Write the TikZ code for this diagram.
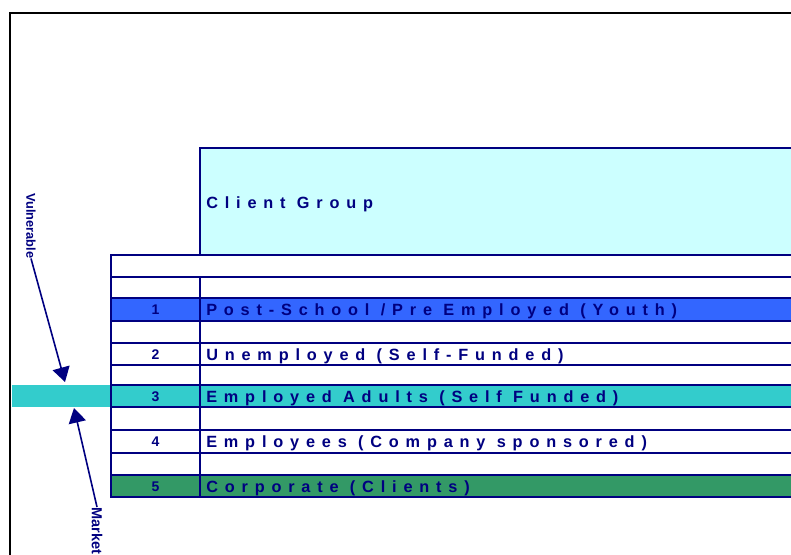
\documentclass[tikz,border=0pt]{standalone}
\usepackage{fontspec}
\setmainfont{Liberation Sans}
\newfontfamily\spaced[LetterSpace=42]{Liberation Sans}
\usetikzlibrary{arrows.meta}

\definecolor{navy}{HTML}{000080}
\definecolor{groupfill}{HTML}{CCFFFF}
\definecolor{youth}{HTML}{3366FF}
\definecolor{adults}{HTML}{33CCCC}
\definecolor{corp}{HTML}{339966}

\begin{document}
\begin{tikzpicture}[x=0.75pt, y=-0.75pt, >={Triangle[width=13pt,length=11pt]}]
        % styles
        \tikzstyle{grid} = [draw=navy, line width=2pt]
        \tikzstyle{label} = [font=\spaced\bfseries\fontsize{12.2}{14}\selectfont, text=navy, anchor=base west, inner sep=0pt]
        \tikzstyle{num} = [font=\bfseries\fontsize{10.5}{12}\selectfont, text=navy, anchor=base, inner sep=0pt]
        \tikzstyle{side} = [font=\bfseries, text=navy, rotate=-90, anchor=west, inner sep=0pt]
        \tikzstyle{pointer} = [->, draw=navy, fill=navy, line width=1.2pt]

        \useasboundingbox (0,0) rectangle (791,554);

        % outer frame
        \draw[black, line width=1.5pt] (10,560) -- (10,13) -- (800,13);

        % coloured bands
        \fill[groupfill] (200,148) rectangle (800,255);
        \fill[youth] (111,298) rectangle (800,321);
        \fill[adults] (12,385) rectangle (800,407);
        \fill[corp] (111,475) rectangle (800,497);

        % table lines
        \draw[grid] (200,255) -- (200,148) -- (800,148);
        \foreach \y in {255,277,298,321,343,365,385,407,430,453,475,497}
            \draw[grid] (111,\y) -- (800,\y);
        \draw[grid] (111,254) -- (111,498);
        \draw[grid] (200,277) -- (200,498);

        % header
        \node[label] (group) at (206,208.5) {Client Group};

        % rows
        \node[num] (n1) at (155.5,314.5) {1};
        \node[label] (g1) at (206,315.5) {Post-School /Pre Employed (Youth)};
        \node[num] (n2) at (155.5,359) {2};
        \node[label] (g2) at (206,360) {Unemployed (Self-Funded)};
        \node[num] (n3) at (155.5,401) {3};
        \node[label] (g3) at (206,402) {Employed Adults (Self Funded)};
        \node[num] (n4) at (155.5,446.5) {4};
        \node[label] (g4) at (206,447.5) {Employees (Company sponsored)};
        \node[num] (n5) at (155.5,491) {5};
        \node[label] (g5) at (206,492) {Corporate (Clients)};

        % side labels
        \node[side, font=\bfseries\fontsize{9.6}{11}\selectfont] (vul) at (31,193) {Vulnerable};
        \node[side, font=\bfseries\fontsize{10.9}{13}\selectfont] (market) at (97,507) {Market};
        \coordinate (vulTip) at (65,382);
        \coordinate (marketTip) at (74,408);

        % pointers
        \draw[pointer] (vul.east) -- (vulTip);
        \draw[pointer] (market.west) -- (marketTip);
\end{tikzpicture}
\end{document}
